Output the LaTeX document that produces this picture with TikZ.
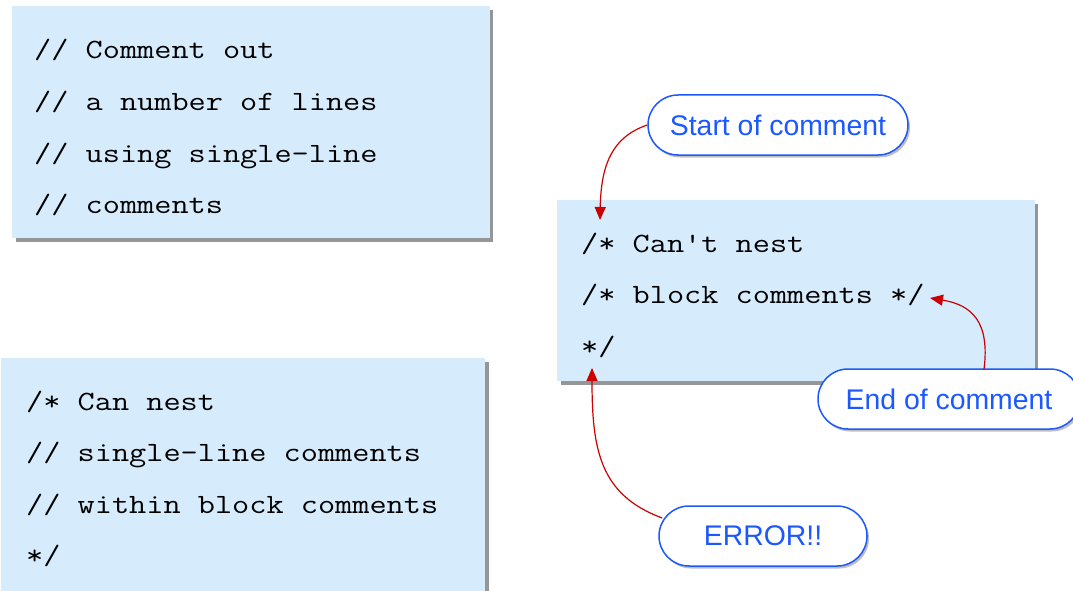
\documentclass[tikz,border=0pt]{standalone}
\usepackage{fontspec}
\setmainfont{Liberation Sans}
\setsansfont{Liberation Sans}
\setmonofont[FakeStretch=1.195]{Latin Modern Mono}
\usetikzlibrary{arrows.meta,shadows}

\definecolor{codebg}{RGB}{214,236,252}
\definecolor{codeshadow}{RGB}{150,150,150}
\definecolor{calloutblue}{RGB}{28,88,255}
\definecolor{arrowred}{RGB}{204,0,0}

\tikzset{
  codebox/.style={fill=codebg, draw=none},
  boxshadow/.style={fill=codeshadow, draw=none},
  codeline/.style={anchor=base west, inner sep=0pt, text=black,
    font=\ttfamily\fontsize{27.9}{30}\selectfont},
  callout/.style={draw=calloutblue, line width=1.5pt, fill=white,
    text=calloutblue, font=\sffamily\fontsize{28.4}{30}\selectfont,
    inner sep=0pt, minimum height=60pt, rounded corners=30pt,
    drop shadow={shadow xshift=2pt, shadow yshift=-2.5pt, opacity=0.25, fill=black}},
  pointer/.style={draw=arrowred, line width=1.2pt,
    -{Triangle[length=13pt,width=11pt]}}
}

\begin{document}
\begin{tikzpicture}[x=1pt,y=-1pt]
  \useasboundingbox (0,0) rectangle (1073,591);
  \clip (0,0) rectangle (1073,591);

  % single-line comments box
  \fill[boxshadow] (16,10) rectangle (493,242);
  \fill[codebox] (12,6) rectangle (490,238);
  \node[codeline] (a1) at (34,59)    {// Comment out};
  \node[codeline] (a2) at (34,110.5) {// a number of lines};
  \node[codeline] (a3) at (34,162)   {// using single-line};
  \node[codeline] (a4) at (34,213.5) {// comments};

  % block comment containing single-line comments
  \fill[boxshadow] (6,362) rectangle (489,600);
  \fill[codebox] (1,358) rectangle (485,600);
  \node[codeline] (b1) at (26,410)   {/* Can nest};
  \node[codeline] (b2) at (26,461.5) {// single-line comments};
  \node[codeline] (b3) at (26,513)   {// within block comments};
  \node[codeline] (b4) at (26,564.5) {*/};

  % nested block comments
  \fill[boxshadow] (561,204) rectangle (1038,385);
  \fill[codebox] (557,200) rectangle (1035,381);
  \node[codeline] (c1) at (581,252)   {/* Can't nest};
  \node[codeline] (c2) at (581,303.5) {/* block comments */};
  \node[codeline] (c3) at (581,355)   {*/};

  % callouts
  \node[callout, minimum width=260pt] (start) at (778,125) {Start of comment};
  \node[callout, minimum width=262pt] (end)   at (949,399) {End of comment};
  \node[callout, minimum width=208pt] (err)   at (763,536) {ERROR!!};

  % pointer targets
  \coordinate (tipstart) at (600,220);
  \coordinate (tipend)   at (930,298);
  \coordinate (tiperr)   at (592,368);
  \coordinate (fromend)  at ([xshift=35pt,yshift=-1pt]end.north);
  \coordinate (fromerr)  at ([xshift=4pt,yshift=18pt]err.west);

  \draw[pointer] (start.west) .. controls (612,137) and (601,165) .. (tipstart);
  \draw[pointer] (fromend) .. controls (990,322) and (972,305) .. (tipend);
  \draw[pointer] (fromerr) .. controls (600,495) and (592,450) .. (tiperr);
\end{tikzpicture}
\end{document}
